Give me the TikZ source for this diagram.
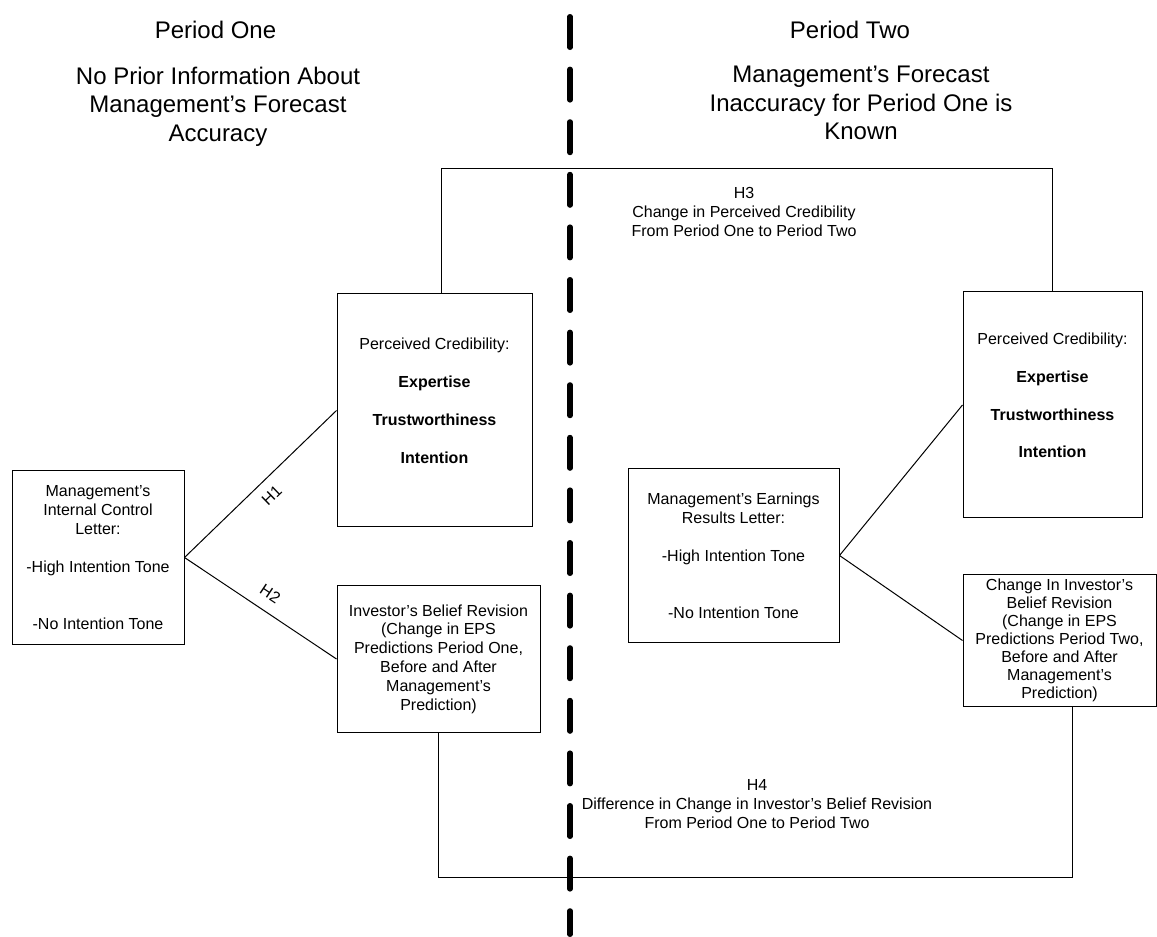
\documentclass[tikz,border=0pt]{standalone}
\usepackage{fontspec}
\setmainfont{Liberation Sans}
\begin{document}
\begin{tikzpicture}[x=0.75pt,y=-0.75pt,
  box/.style={draw, line width=0.75pt, inner sep=0pt, align=center, font=\fontsize{12}{14.25}\selectfont},
  conn/.style={line width=0.75pt},
  hdr/.style={align=center, inner sep=0pt, font=\fontsize{18}{21.4}\selectfont},
  lbl/.style={align=center, inner sep=0pt, font=\fontsize{12}{14}\selectfont},
  divider/.style={line width=4.1pt, line cap=round, dash pattern=on 22.9pt off 16.55pt}]
\useasboundingbox (0,0) rectangle (1157,937);

% headers
\node[hdr, anchor=base] (P1) at (215.5,39) {Period One};
\node[hdr, anchor=north] (P1d) at (218,66.5) {No Prior Information About\\Management’s Forecast\\Accuracy};
\node[hdr, anchor=base] (P2) at (850,39) {Period Two};
\node[hdr, anchor=north] (P2d) at (861,66) {Management’s Forecast\\Inaccuracy for Period One is\\Known};

% divider
\coordinate (dtop) at (570,16.75);
\coordinate (dbot) at (570,934.25);
\draw[divider] (dtop) -- (dbot);

% boxes
\node[box, minimum width=129pt, minimum height=129.75pt] (LB) at (98,557.5)
  {Management’s\\Internal Control\\Letter:\\[14.25pt]-High Intention Tone\\[28.5pt]-No Intention Tone};
\node[box, minimum width=146.25pt, minimum height=174.75pt] (PC1) at (434.5,410.5)
  {Perceived Credibility:\\[14.25pt]\textbf{Expertise}\\[14.25pt]\textbf{Trustworthiness}\\[14.25pt]\textbf{Intention}\\\mbox{}};
\node[box, minimum width=152.25pt, minimum height=109.5pt, font=\fontsize{12}{14.1}\selectfont] (IBR1) at (438.5,659)
  {Investor’s Belief Revision\\(Change in EPS\\Predictions Period One,\\Before and After\\Management’s\\Prediction)};
\node[box, minimum width=158.25pt, minimum height=129.75pt] (ERL) at (733.5,555.5)
  {Management’s Earnings\\Results Letter:\\[14.25pt]-High Intention Tone\\[28.5pt]-No Intention Tone};
\node[box, minimum width=134.25pt, minimum height=169.5pt] (PC2) at (1052.5,405)
  {Perceived Credibility:\\[14pt]\textbf{Expertise}\\[14pt]\textbf{Trustworthiness}\\[14pt]\textbf{Intention}\\\mbox{}};
\node[box, minimum width=144.75pt, minimum height=98.25pt, font=\fontsize{12}{13.5}\selectfont] (IBR2) at (1059.5,640.5)
  {Change In Investor’s\\Belief Revision\\(Change in EPS\\Predictions Period Two,\\Before and After\\Management’s\\Prediction)};

% connectors
\draw[conn] (LB.east) -- node[sloped, anchor=north, lbl, outer sep=8pt] (H1) {H1} (PC1.west);
\draw[conn] (LB.east) -- node[sloped, anchor=south, lbl, outer sep=9pt] (H2) {H2} (IBR1.west);
\draw[conn] (ERL.east) -- (PC2.west);
\draw[conn] (ERL.east) -- (IBR2.west);
\draw[conn] ([xshift=4.875pt]PC1.north) |- ([yshift=92.25pt]PC2.north) -- (PC2.north);
\draw[conn] (IBR1.south) |- ([xshift=9.4pt,yshift=-128.25pt]IBR2.south) -- ([xshift=9.4pt]IBR2.south);

% hypothesis labels
\node[lbl, anchor=north] (H3) at (744,187.5) {H3\\Change in Perceived Credibility\\From Period One to Period Two};
\node[lbl, anchor=north] (H4) at (757,779.5) {H4\\Difference in Change in Investor’s Belief Revision\\From Period One to Period Two};
\end{tikzpicture}
\end{document}
